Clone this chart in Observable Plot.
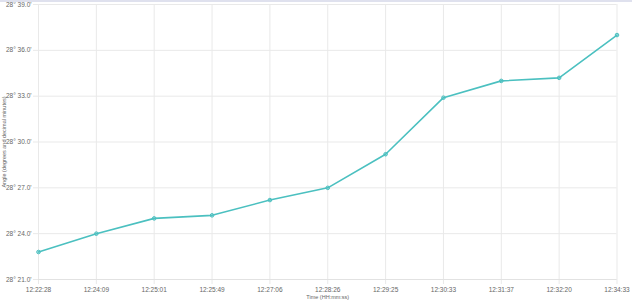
<!DOCTYPE html>
<html>
<head>
<meta charset="utf-8">
<script src="https://cdn.jsdelivr.net/npm/d3@7"></script>
<script src="https://cdn.jsdelivr.net/npm/@observablehq/plot@0.6"></script>
<style>
  html, body { margin: 0; padding: 0; background: #fff; }
  #wrap { width: 632px; height: 300px; position: relative; overflow: hidden; border-top: 2px solid #dfe1ee; box-sizing: border-box; }
  #wrap svg { position: absolute; left: 0; top: -2px; }
</style>
</head>
<body>
<div id="wrap"></div>
<script>
const times = ["12:22:28","12:24:09","12:25:01","12:25:49","12:27:06","12:28:26","12:29:25","12:30:33","12:31:37","12:32:20","12:34:33"];
const minutes = [22.8, 24.0, 25.0, 25.2, 26.2, 27.0, 29.2, 32.9, 34.0, 34.2, 37.0];
const yTicks = [21, 24, 27, 30, 33, 36, 39];
const degrees = 28;

const data = times.map((t, i) => ({time: t, value: minutes[i]}));
const teal = "rgb(75,192,192)";
const gridColor = "#e9e9e9";
const font = "Liberation Sans, Arial, Helvetica, sans-serif";

const chart = Plot.plot({
  width: 632,
  height: 300,
  marginLeft: 38,
  marginRight: 15.5,
  marginTop: 4,
  marginBottom: 21,
  style: {fontFamily: font, fontSize: "6.5px", color: "#666", background: "#fff"},
  x: {type: "point", domain: times, padding: 0, round: false},
  y: {domain: [21, 39]},
  marks: [
    Plot.gridX(times, {stroke: gridColor, strokeOpacity: 1}),
    Plot.gridY(yTicks, {stroke: gridColor, strokeOpacity: 1}),
    Plot.axisX(times, {tickSize: 5, tickPadding: 3, stroke: gridColor, fill: "#666", label: null}),
    Plot.axisY(yTicks, {tickSize: 5, tickPadding: 2, stroke: gridColor, fill: "#666",
      tickFormat: d => `${degrees}° ${d.toFixed(1)}'`, label: null}),
    Plot.ruleY([21], {stroke: "#e2e2e2"}),
    Plot.line(data, {x: "time", y: "value", stroke: teal, strokeWidth: 1.6}),
    Plot.dot(data, {x: "time", y: "value", r: 1.8, fill: "rgba(75,192,192,0.4)", stroke: teal, strokeWidth: 1}),
    Plot.text(["Time (HH:mm:ss)"], {frameAnchor: "bottom", dy: 19.5, fontSize: 5.5, fill: "#666"}),
    Plot.text(["Angle (degrees and decimal minutes)"], {frameAnchor: "left", dx: -34, rotate: -90, textAnchor: "middle", fontSize: 5.5, fill: "#666"})
  ]
});
document.getElementById("wrap").appendChild(chart);
</script>
</body>
</html>
